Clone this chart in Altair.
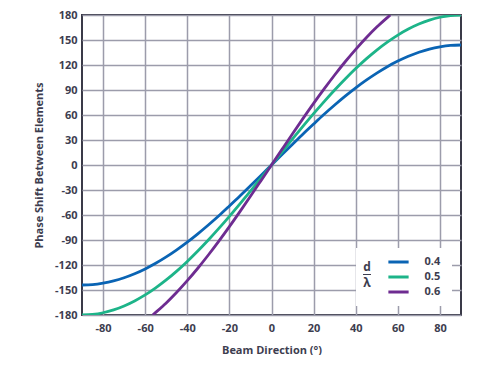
import altair as alt
import pandas as pd

# Beam direction (degrees) sampled for the curves
angles = [-90, -85, -80, -75, -70, -65, -60, -55, -50, -45, -40, -35, -30, -25, -20, -15, -10, -5, 0,
          5, 10, 15, 20, 25, 30, 35, 40, 45, 50, 55, 60, 65, 70, 75, 80, 85, 90]

# d/lambda = 0.4
phase_04 = [-144, -143.5, -141.8, -139.1, -135.3, -130.5, -124.7, -118, -110.3, -101.8, -92.6, -82.6,
            -72, -60.9, -49.2, -37.3, -25, -12.6, 0, 12.6, 25, 37.3, 49.2, 60.9, 72, 82.6, 92.6, 101.8,
            110.3, 118, 124.7, 130.5, 135.3, 139.1, 141.8, 143.5, 144]
# d/lambda = 0.5
phase_05 = [-180, -179.3, -177.3, -173.9, -169.1, -163.1, -155.9, -147.4, -137.9, -127.3, -115.7, -103.2,
            -90, -76.1, -61.6, -46.6, -31.3, -15.7, 0, 15.7, 31.3, 46.6, 61.6, 76.1, 90, 103.2, 115.7,
            127.3, 137.9, 147.4, 155.9, 163.1, 169.1, 173.9, 177.3, 179.3, 180]
# d/lambda = 0.6 (limited to +/-180)
angles_06 = [-56.4, -55, -50, -45, -40, -35, -30, -25, -20, -15, -10, -5, 0,
             5, 10, 15, 20, 25, 30, 35, 40, 45, 50, 55, 56.4]
phase_06 = [-180, -176.9, -165.5, -152.7, -138.8, -123.9, -108, -91.3, -73.9, -55.9, -37.5, -18.8, 0,
            18.8, 37.5, 55.9, 73.9, 91.3, 108, 123.9, 138.8, 152.7, 165.5, 176.9, 180]

series = ["0.4", "0.5", "0.6"]
colors = ["#0a64b4", "#1db489", "#6e2c91"]
x_ticks = [-80, -60, -40, -20, 0, 20, 40, 60, 80]
y_ticks = [-180, -150, -120, -90, -60, -30, 0, 30, 60, 90, 120, 150, 180]

rows = []
for a, p in zip(angles, phase_04):
    rows.append({"angle": a, "phase": p, "ratio": series[0]})
for a, p in zip(angles, phase_05):
    rows.append({"angle": a, "phase": p, "ratio": series[1]})
for a, p in zip(angles_06, phase_06):
    rows.append({"angle": a, "phase": p, "ratio": series[2]})
df = pd.DataFrame(rows)

FONT = "Open Sans"
TXT = "#3d3d4f"

lines = alt.Chart(df).mark_line(strokeWidth=2.8, interpolate="monotone", clip=True).encode(
    x=alt.X("angle:Q", scale=alt.Scale(domain=[-90, 90], nice=False, zero=False),
            axis=alt.Axis(values=x_ticks, title="Beam Direction (°)", labelPadding=7,
                          titlePadding=11, labelExpr="'' + datum.value")),
    y=alt.Y("phase:Q", scale=alt.Scale(domain=[-180, 180], nice=False, zero=False),
            axis=alt.Axis(values=y_ticks, title="Phase Shift Between Elements", labelPadding=5,
                          titlePadding=10, labelExpr="'' + datum.value")),
    color=alt.Color("ratio:N", scale=alt.Scale(domain=series, range=colors),
                    legend=alt.Legend(orient="none", legendX=307.5, legendY=238, title=None,
                                      symbolType="M-1.35,0L1.35,0", symbolSize=225,
                                      symbolStrokeWidth=3, labelOffset=17, rowPadding=0,
                                      labelFont=FONT, labelFontSize=11, labelFontWeight="bold",
                                      labelColor=TXT, padding=0)),
)

one = pd.DataFrame({"a": [0]})
box = alt.Chart(one).mark_rect(color="white").encode(
    x=alt.value(274), x2=alt.value(370), y=alt.value(233), y2=alt.value(291)
)
d_txt = alt.Chart(one).mark_text(text="d", font=FONT, fontSize=12, fontWeight="bold", color=TXT,
                                 baseline="middle").encode(x=alt.value(285), y=alt.value(252))
l_txt = alt.Chart(one).mark_text(text="λ", font=FONT, fontSize=12, fontWeight="bold", color=TXT,
                                 baseline="middle").encode(x=alt.value(285), y=alt.value(268))
bar = alt.Chart(one).mark_rule(color=TXT, strokeWidth=1).encode(
    x=alt.value(281), x2=alt.value(289), y=alt.value(259.5)
)

chart = alt.layer(box, lines, d_txt, l_txt, bar).properties(
    width=379, height=300, autosize="none",
    padding={"left": 74, "top": 7, "right": 20, "bottom": 40},
).configure_view(
    stroke="#3a3a48", strokeWidth=2
).configure_axis(
    grid=True, gridColor="#9c9cab", gridWidth=1.5, domain=False, ticks=False,
    labelFont=FONT, labelFontSize=11, labelFontWeight="bold", labelColor=TXT,
    titleFont=FONT, titleFontSize=11, titleFontWeight="bold", titleColor=TXT,
)

chart.save("out.html", embed_options={"renderer": "svg", "actions": False})
